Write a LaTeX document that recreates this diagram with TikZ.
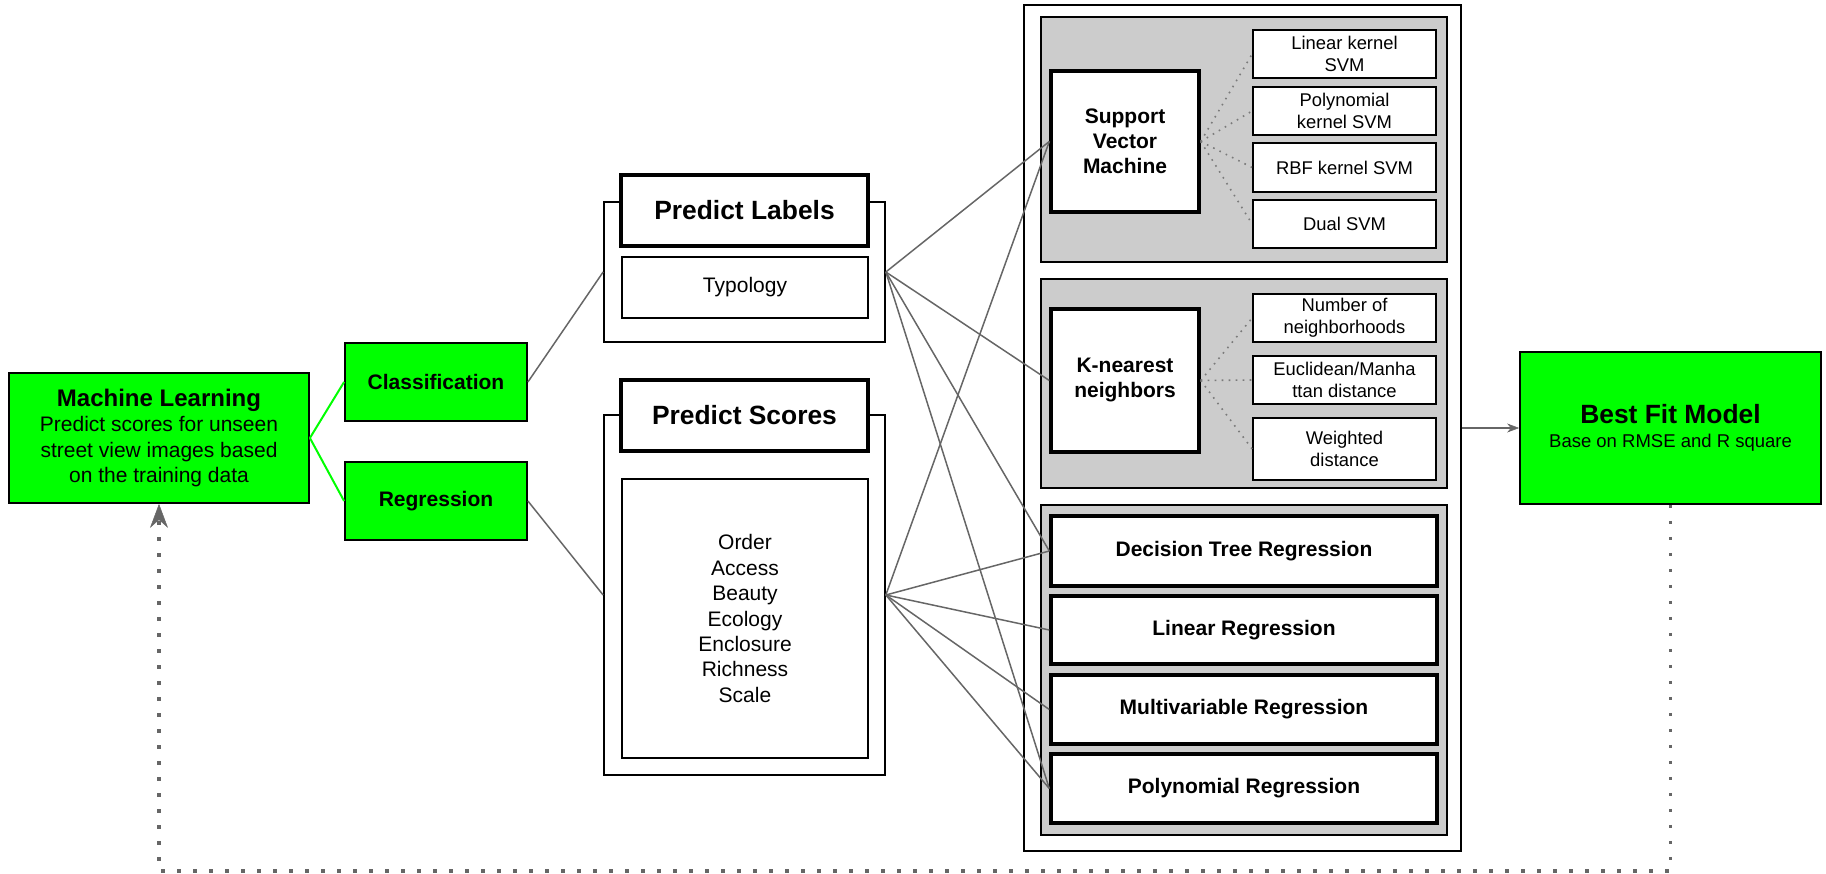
\documentclass[tikz,border=0pt]{standalone}
\usepackage{fontspec}
\setmainfont{Liberation Sans}
\usetikzlibrary{arrows.meta}
\definecolor{mlgreen}{HTML}{00FF00}
\definecolor{grpfill}{HTML}{CCCCCC}
\definecolor{wiregray}{HTML}{666666}
\definecolor{dotgray}{HTML}{7A7A7A}
\begin{document}
\begin{tikzpicture}[x=1pt,y=-1pt,
  mlgreenbox/.style={draw=black,line width=1.8pt,fill=mlgreen,align=center,inner sep=2pt},
  thinbx/.style={draw=black,line width=1.7pt,fill=white,align=center,inner sep=2pt},
  thickbx/.style={draw=black,line width=3.4pt,fill=white,align=center,inner sep=2pt},
  grpbx/.style={draw=black,line width=1.7pt,fill=grpfill,inner sep=0pt},
  framebx/.style={draw=black,line width=1.7pt,fill=white,inner sep=0pt},
  wireln/.style={draw=wiregray,line width=1.5pt},
  dotln/.style={draw=dotgray,line width=1.6pt,dash pattern=on 1.6pt off 5.4pt},
  greenln/.style={draw=mlgreen,line width=2pt},
  fbln/.style={draw=wiregray,line width=3.5pt,dash pattern=on 3.5pt off 12.5pt},
  fttl/.style={font=\fontsize{26.4}{30}\selectfont\bfseries},
  fhd/.style={font=\fontsize{21}{25}\selectfont\bfseries},
  fbody/.style={font=\fontsize{21}{25.4}\selectfont},
  fsmall/.style={font=\fontsize{18.4}{21.7}\selectfont}
]
\useasboundingbox (0,0) rectangle (1826,874);

% ---- left: learning task and its two branches
\node[mlgreenbox,fbody,minimum width=300pt,minimum height=130pt] (ml) at (159,438)
  {{\fontsize{24}{26}\selectfont\bfseries Machine Learning}\\Predict scores for unseen\\street view images based\\on the training data};
\node[mlgreenbox,fhd,minimum width=182pt,minimum height=78pt] (cls) at (436,382) {Classification};
\node[mlgreenbox,fhd,minimum width=182pt,minimum height=78pt] (reg) at (436,501) {Regression};

% ---- prediction targets
\node[framebx,minimum width=281pt,minimum height=140pt] (plo) at (744.5,272) {};
\node[thickbx,fttl,minimum width=247pt,minimum height=71pt] (plt) at (744.5,210.5) {Predict Labels};
\node[thinbx,fbody,minimum width=246pt,minimum height=61pt] (typ) at (745,287.5) {Typology};

\node[framebx,minimum width=281pt,minimum height=360pt] (pso) at (744.5,595) {};
\node[thickbx,fttl,minimum width=247pt,minimum height=71pt] (pst) at (744.5,415.5) {Predict Scores};
\node[thinbx,fbody,minimum width=246pt,minimum height=279pt] (psl) at (745,618.5)
  {Order\\Access\\Beauty\\Ecology\\Enclosure\\Richness\\Scale};

% ---- model families
\node[framebx,minimum width=437pt,minimum height=846pt] (cont) at (1242.5,428) {};

\node[grpbx,minimum width=406pt,minimum height=245pt] (svmg) at (1244,139.5) {};
\node[thickbx,fhd,minimum width=148pt,minimum height=141pt] (svm) at (1125,141.5) {Support\\Vector\\Machine};
\node[thinbx,fsmall,minimum width=183pt,minimum height=48pt] (s1) at (1344.5,54) {Linear kernel\\SVM};
\node[thinbx,fsmall,minimum width=183pt,minimum height=48pt] (s2) at (1344.5,111) {Polynomial\\kernel SVM};
\node[thinbx,fsmall,minimum width=183pt,minimum height=49pt] (s3) at (1344.5,167.5) {RBF kernel SVM};
\node[thinbx,fsmall,minimum width=183pt,minimum height=48pt] (s4) at (1344.5,224) {Dual SVM};

\node[grpbx,minimum width=406pt,minimum height=209pt] (knng) at (1244,383.5) {};
\node[thickbx,fhd,minimum width=148pt,minimum height=143pt] (knn) at (1125,380.5) {K-nearest\\neighbors};
\node[thinbx,fsmall,minimum width=183pt,minimum height=48pt] (k1) at (1344.5,318) {Number of\\neighborhoods};
\node[thinbx,fsmall,minimum width=183pt,minimum height=48pt] (k2) at (1344.5,380) {Euclidean/Manha\\ttan distance};
\node[thinbx,fsmall,minimum width=183pt,minimum height=62pt] (k3) at (1344.5,449) {Weighted\\distance};

\node[grpbx,minimum width=406pt,minimum height=330pt] (regg) at (1244,670) {};
\node[thickbx,fhd,minimum width=386pt,minimum height=70pt] (dtr) at (1244,551) {Decision Tree Regression};
\node[thickbx,fhd,minimum width=386pt,minimum height=68pt] (lr) at (1244,630) {Linear Regression};
\node[thickbx,fhd,minimum width=386pt,minimum height=69pt] (mr) at (1244,709.5) {Multivariable Regression};
\node[thickbx,fhd,minimum width=386pt,minimum height=69pt] (pr) at (1244,788.5) {Polynomial Regression};

% ---- result
\node[mlgreenbox,font=\fontsize{18.5}{24}\selectfont,minimum width=301pt,minimum height=152pt] (bf) at (1670.5,428)
  {{\fontsize{26.4}{28}\selectfont\bfseries Best Fit Model}\\Base on RMSE and R square};

% ---- connectors
\draw[greenln] (ml.east) -- (cls.west);
\draw[greenln] (ml.east) -- (reg.west);
\draw[wireln] (cls.east) -- (plo.west);
\draw[wireln] (reg.east) -- (pso.west);
\foreach \t in {svm,knn,dtr,pr} \draw[wireln] (plo.east) -- (\t.west);
\foreach \t in {svm,dtr,lr,mr,pr} \draw[wireln] (pso.east) -- (\t.west);
\foreach \t in {s1,s2,s3,s4} \draw[dotln] (svm.east) -- (\t.west);
\foreach \t in {k1,k2,k3} \draw[dotln] (knn.east) -- (\t.west);
\draw[wireln,-{Stealth[length=12pt,width=9pt,line width=0.5pt]}] (cont.east) -- (bf.west);

% ---- feedback loop back to the learning task
\coordinate (fbr) at (1670.5,871);
\coordinate (fbl) at (159,871);
\draw[fbln,-{Stealth[length=24pt,width=18pt,inset=8pt,line width=0.5pt]}] (bf.south) -- (fbr) -- (fbl) -- (ml.south);
\end{tikzpicture}
\end{document}
